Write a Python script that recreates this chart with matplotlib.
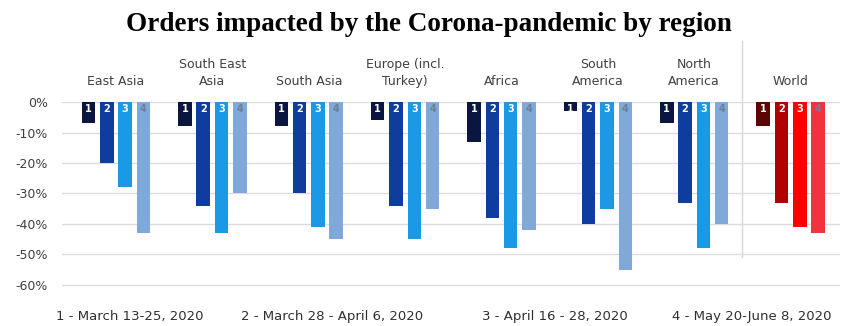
import matplotlib.pyplot as plt
import numpy as np

regions = ['East Asia', 'South East\nAsia', 'South Asia', 'Europe (incl.\nTurkey)',
           'Africa', 'South\nAmerica', 'North\nAmerica', 'World']
wave1 = [-7, -8, -8, -6, -13, -3, -7, -8]
wave2 = [-20, -34, -30, -34, -38, -40, -33, -33]
wave3 = [-28, -43, -41, -45, -48, -35, -48, -41]
wave4 = [-43, -30, -45, -35, -42, -55, -40, -43]
periods = ['1 - March 13-25, 2020', '2 - March 28 - April 6, 2020',
           '3 - April 16 - 28, 2020', '4 - May 20-June 8, 2020']
yticks = [0, -10, -20, -30, -40, -50, -60]

blues = ['#0b1640', '#0e3d9e', '#1a9ae6', '#7fa9d9']
reds = ['#5c0505', '#b00000', '#ff0000', '#f2333d']
numcol = ['white', 'white', 'white', '#6b7f99']

fig = plt.figure(figsize=(8.5, 3.26), dpi=100)
ax = fig.add_axes([0.073, 0.117, 0.915, 0.57])

series = [wave1, wave2, wave3, wave4]
x = np.arange(len(regions))
w = 0.14
step = 0.19
for k, vals in enumerate(series):
    xs = x + (k - 1.5) * step
    cols = [blues[k]] * 7 + [reds[k]]
    ax.bar(xs, np.array(vals) / 100, width=w, color=cols, zorder=3)
    for xi in xs:
        ax.text(xi, -0.022, str(k + 1), ha='center', va='center', fontsize=7,
                fontweight='bold', color=numcol[k], zorder=4)

ax.set_xlim(-0.56, 7.51)
ax.set_ylim(-0.61, 0.0)
ax.set_yticks([t / 100 for t in yticks])
ax.set_yticklabels([f'{t}%' for t in yticks], fontsize=9, color='#404040')
ax.set_xticks([])
ax.tick_params(axis='y', length=0, pad=10)
ax.grid(axis='y', color='#dcdcdc', linewidth=1, zorder=0)
for s in ax.spines.values():
    s.set_visible(False)

# separator between regions and world
ax.plot([6.5, 6.5], [-0.51, 0.2], color='#d8d8d8', lw=1, clip_on=False, zorder=1)

for xi, r in zip(x, regions):
    ax.text(xi, 0.045, r, ha='center', va='bottom', fontsize=9, color='#404040',
            linespacing=1.45)

centers = [130, 332, 555, 752]
for c, p in zip(centers, periods):
    fig.text(c / 850, 0.03, p, ha='center', va='center', fontsize=9.5,
             color='#303030')

fig.text(0.505, 0.925, 'Orders impacted by the Corona-pandemic by region', ha='center',
         va='center', fontsize=19.5, fontweight='bold', family='Liberation Serif')

fig.savefig('out.png', dpi=100)
